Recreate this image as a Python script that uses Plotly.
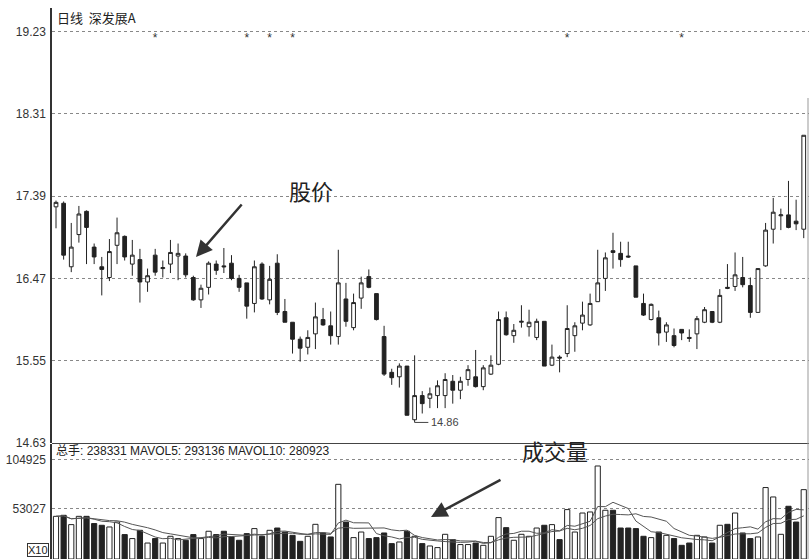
import plotly.graph_objects as go
import pandas as pd

# ---------------- data ----------------
opens = [17.27, 17.31, 16.60, 16.96, 17.22, 16.82, 16.60, 16.48, 16.84, 16.94,
         16.63, 16.68, 16.43, 16.73, 16.58, 16.63, 16.72, 16.72, 16.48, 16.23,
         16.37, 16.63, 16.61, 16.64, 16.47, 16.42, 16.19, 16.63, 16.23, 16.64,
         16.10, 15.98, 15.79, 15.70, 15.85, 16.01, 15.94, 15.82, 16.24, 15.92,
         16.25, 16.49, 16.30, 15.82, 15.42, 15.37, 15.49, 14.89, 15.16, 15.13,
         15.16, 15.16, 15.32, 15.22, 15.34, 15.37, 15.26, 15.40, 15.51, 16.03,
         15.83, 15.98, 15.93, 15.81, 15.99, 15.50, 15.59, 15.63, 15.83, 15.97,
         15.95, 16.21, 16.47, 16.78, 16.75, 16.72, 16.61, 16.19, 16.01, 16.03,
         15.87, 15.83, 15.90, 15.81, 15.85, 15.98, 16.10, 15.98, 16.37, 16.38,
         16.48, 16.39, 16.09, 16.61, 17.02, 17.17, 17.18, 17.11, 17.02]
highs = [17.34, 17.33, 17.09, 17.28, 17.23, 16.86, 16.71, 16.91, 17.15, 16.95,
         16.90, 16.80, 16.58, 16.80, 16.67, 16.90, 16.86, 16.75, 16.50, 16.40,
         16.66, 16.67, 16.81, 16.73, 16.51, 16.42, 16.67, 16.65, 16.61, 16.74,
         16.24, 15.98, 15.82, 15.89, 16.20, 16.14, 16.10, 16.79, 16.42, 16.30,
         16.49, 16.57, 16.30, 15.94, 15.46, 15.52, 15.49, 15.61, 15.21, 15.25,
         15.33, 15.41, 15.39, 15.37, 15.50, 15.67, 15.50, 15.61, 16.10, 16.10,
         15.96, 16.17, 16.12, 16.02, 15.99, 15.73, 15.61, 16.17, 15.98, 16.21,
         16.30, 16.79, 16.76, 16.98, 16.88, 16.88, 16.61, 16.30, 16.19, 16.11,
         15.98, 15.91, 15.90, 15.90, 16.05, 16.15, 16.10, 16.35, 16.63, 16.76,
         16.71, 16.48, 16.58, 17.09, 17.37, 17.25, 17.56, 17.35, 18.07]
lows = [17.03, 16.68, 16.54, 16.87, 16.63, 16.63, 16.28, 16.44, 16.63, 16.67,
        16.50, 16.20, 16.32, 16.50, 16.48, 16.53, 16.45, 16.48, 16.22, 16.14,
        16.29, 16.51, 16.53, 16.45, 16.32, 16.02, 16.09, 16.23, 16.18, 16.06,
        15.98, 15.63, 15.54, 15.62, 15.68, 15.94, 15.73, 15.73, 15.93, 15.89,
        16.13, 16.36, 16.00, 15.38, 15.28, 15.25, 14.94, 14.86, 14.96, 15.02,
        15.02, 15.02, 15.07, 15.12, 15.27, 15.25, 15.22, 15.39, 15.50, 15.83,
        15.75, 15.92, 15.82, 15.78, 15.49, 15.49, 15.42, 15.59, 15.65, 15.89,
        15.94, 16.21, 16.33, 16.58, 16.60, 16.70, 16.26, 16.05, 16.00, 15.72,
        15.76, 15.70, 15.78, 15.76, 15.68, 15.97, 15.97, 15.97, 16.35, 16.33,
        16.37, 16.03, 16.09, 16.60, 16.86, 17.01, 17.03, 17.01, 16.92]
closes = [17.32, 16.73, 16.82, 17.19, 17.04, 16.71, 16.57, 16.77, 16.98, 16.71,
          16.73, 16.43, 16.50, 16.54, 16.59, 16.76, 16.75, 16.51, 16.23, 16.36,
          16.64, 16.56, 16.60, 16.47, 16.37, 16.16, 16.60, 16.24, 16.46, 16.09,
          15.98, 15.79, 15.69, 15.81, 16.04, 15.95, 15.83, 16.42, 15.99, 16.20,
          16.42, 16.37, 16.01, 15.40, 15.36, 15.49, 14.94, 15.16, 15.07, 15.18,
          15.27, 15.34, 15.22, 15.32, 15.45, 15.26, 15.47, 15.50, 16.01, 15.84,
          15.89, 15.99, 15.98, 15.99, 15.49, 15.59, 15.58, 15.91, 15.94, 16.06,
          16.19, 16.42, 16.70, 16.76, 16.68, 16.71, 16.26, 16.06, 16.18, 15.86,
          15.95, 15.72, 15.86, 15.80, 16.02, 16.12, 15.98, 16.28, 16.36, 16.51,
          16.40, 16.09, 16.58, 17.01, 17.21, 17.18, 17.04, 17.08, 18.07]
volumes = [44900, 46000, 36200, 44900, 44900, 37300, 35500, 33700, 38900, 25700,
           21500, 30200, 16800, 21500, 16800, 23900, 21500, 19700, 25700, 21500,
           29200, 25700, 29200, 23200, 19700, 26700, 32000, 23900, 30200, 32600,
           28400, 24900, 18600, 23900, 36500, 27400, 23200, 78600, 38900, 22500,
           28400, 21500, 22500, 27400, 16200, 17900, 29200, 23900, 16200, 13700,
           12000, 26000, 20400, 15200, 15200, 16800, 14400, 23900, 43600, 33000,
           19700, 26000, 23900, 32600, 35500, 36200, 20400, 52000, 28400, 48400,
           49500, 97900, 51300, 51300, 32600, 32600, 32000, 23900, 22500, 28400,
           24900, 21500, 14400, 16800, 24900, 23200, 16800, 35500, 36500, 48400,
           27400, 21500, 23200, 75200, 65300, 26000, 55500, 38900, 73000]
star_idx = [13, 25, 28, 31, 67, 82]
price_ticks = [19.23, 18.31, 17.39, 16.47, 15.55, 14.63]
vol_ticks = [104925, 53027]
title_text = "日线  深发展A"
vol_title = "总手: 238331 MAVOL5: 293136 MAVOL10: 280923"
low_label = "14.86"

# ---------------- figure ----------------
idx = list(range(len(opens)))
vol_s = pd.Series(volumes)
ma5 = vol_s.rolling(5, min_periods=1).mean().tolist()
ma10 = vol_s.rolling(10, min_periods=1).mean().tolist()
vol_colors = ['white' if c >= o else '#222222' for o, c in zip(opens, closes)]

W, H = 809, 559
L, T = 52, 8
PW, PH = W - L, H - T


def fx(px):
    return (px - L) / PW


def fy(py):
    return (H - py) / PH


fig = go.Figure()
fig.add_trace(go.Candlestick(
    x=idx, open=opens, high=highs, low=lows, close=closes,
    increasing=dict(line=dict(color='#222222', width=1), fillcolor='white'),
    decreasing=dict(line=dict(color='#222222', width=1), fillcolor='#222222'),
    whiskerwidth=0, showlegend=False, xaxis='x', yaxis='y'))
fig.add_trace(go.Scatter(
    x=star_idx, y=[19.15] * len(star_idx), mode='text', text=['*'] * len(star_idx),
    textfont=dict(size=12, color='#333333', family='Liberation Sans'),
    showlegend=False, xaxis='x', yaxis='y'))
fig.add_trace(go.Bar(
    x=idx, y=volumes, width=0.68, marker=dict(color=vol_colors, line=dict(color='#222222', width=1)),
    showlegend=False, xaxis='x2', yaxis='y2'))
fig.add_trace(go.Scatter(x=idx, y=ma5, mode='lines', line=dict(color='#555555', width=1),
                         showlegend=False, xaxis='x2', yaxis='y2'))
fig.add_trace(go.Scatter(x=idx, y=ma10, mode='lines', line=dict(color='#555555', width=1),
                         showlegend=False, xaxis='x2', yaxis='y2'))

xr = [(L - 56) / 7.63, (W - 56) / 7.63]
price_top = 14.63 + (443 - T) * 0.011179
vol_top = (559 - 444) * 1052.6

axis_font = dict(family='Liberation Sans, Arial', size=12, color='#333333')
fig.update_layout(
    width=W, height=H, autosize=False, margin=dict(l=L, r=0, t=T, b=0, pad=0, autoexpand=False),
    paper_bgcolor='white', plot_bgcolor='white',
    font=dict(family='Liberation Sans, Noto Sans CJK SC', color='#333333'),
    xaxis=dict(domain=[0, 1], range=xr, showgrid=False, zeroline=False, showticklabels=False,
               rangeslider=dict(visible=False), automargin=False, ticks=''),
    xaxis2=dict(domain=[0, 1], range=xr, showgrid=False, zeroline=False, showticklabels=False,
                anchor='y2', automargin=False, ticks=''),
    yaxis=dict(domain=[fy(443), 1], range=[14.63, price_top], tickvals=price_ticks,
               ticktext=[f"{v:.2f}" for v in price_ticks], tickfont=axis_font,
               showgrid=True, gridcolor='#888888', griddash='dot', gridwidth=1,
               zeroline=False, showline=True, linecolor='#333333', linewidth=1.5,
               ticks='', ticklabelstandoff=2, automargin=False),
    yaxis2=dict(domain=[0, fy(444)], range=[0, vol_top], tickvals=vol_ticks,
                ticktext=[str(v) for v in vol_ticks], tickfont=axis_font,
                showgrid=True, gridcolor='#888888', griddash='dot', gridwidth=1,
                zeroline=False, showline=True, linecolor='#333333', linewidth=1.5,
                ticks='', ticklabelstandoff=2, anchor='x2', automargin=False),
    bargap=0.3,
)

# separator line between panels
fig.add_shape(type='line', xref='paper', yref='paper', x0=0, x1=1, y0=fy(443.5), y1=fy(443.5),
              line=dict(color='#444444', width=1.2))
# right border
fig.add_shape(type='line', xref='paper', yref='paper', x0=fx(808), x1=fx(808), y0=fy(559), y1=fy(98),
              line=dict(color='#999999', width=1))

ann = []
ann.append(dict(text=title_text, x=fx(55), y=fy(18), xref='paper', yref='paper',
                xanchor='left', yanchor='middle', showarrow=False,
                font=dict(family='Noto Sans CJK SC', size=13, color='#222222')))
ann.append(dict(text=vol_title, x=fx(54), y=fy(451), xref='paper', yref='paper',
                xanchor='left', yanchor='middle', showarrow=False,
                font=dict(family='Liberation Sans, Noto Sans CJK SC', size=12, color='#222222')))
ann.append(dict(text='X10', x=fx(38), y=fy(550), xref='paper', yref='paper',
                xanchor='center', yanchor='middle', showarrow=False, bordercolor='#333333',
                borderwidth=1, borderpad=0, bgcolor='white',
                font=dict(family='Liberation Sans', size=11, color='#222222')))
# low label
fig.add_shape(type='line', xref='x', yref='y', x0=47, x1=48.8, y0=14.86, y1=14.86,
              line=dict(color='#444444', width=1))
ann.append(dict(text=low_label, x=48.9, y=14.865, xref='x', yref='y', xanchor='left',
                yanchor='middle', showarrow=False,
                font=dict(family='Liberation Sans', size=11, color='#444444')))
# callouts
ann.append(dict(text='股价', x=fx(287), y=fy(172), xref='paper', yref='paper',
                showarrow=False, font=dict(family='Noto Sans CJK SC', size=22, color='#222222')))
ann.append(dict(text='', x=fx(196), y=fy(257), xref='paper', yref='paper', showarrow=True,
                ax=47, ay=-54, arrowhead=2, arrowsize=1.3, arrowwidth=2.5, arrowcolor='#333333'))
ann.append(dict(text='成交量', x=fx(555), y=fy(468), xref='paper', yref='paper',
                showarrow=False, font=dict(family='Noto Sans CJK SC', size=22, color='#222222')))
ann.append(dict(text='', x=fx(431), y=fy(517), xref='paper', yref='paper', showarrow=True,
                ax=71, ay=-38, arrowhead=2, arrowsize=1.3, arrowwidth=2.5, arrowcolor='#333333'))
fig.update_layout(annotations=ann)

fig.write_html("out.html", config={'displayModeBar': False},
               post_script="document.body.style.margin='0';document.body.style.overflow='hidden';")
